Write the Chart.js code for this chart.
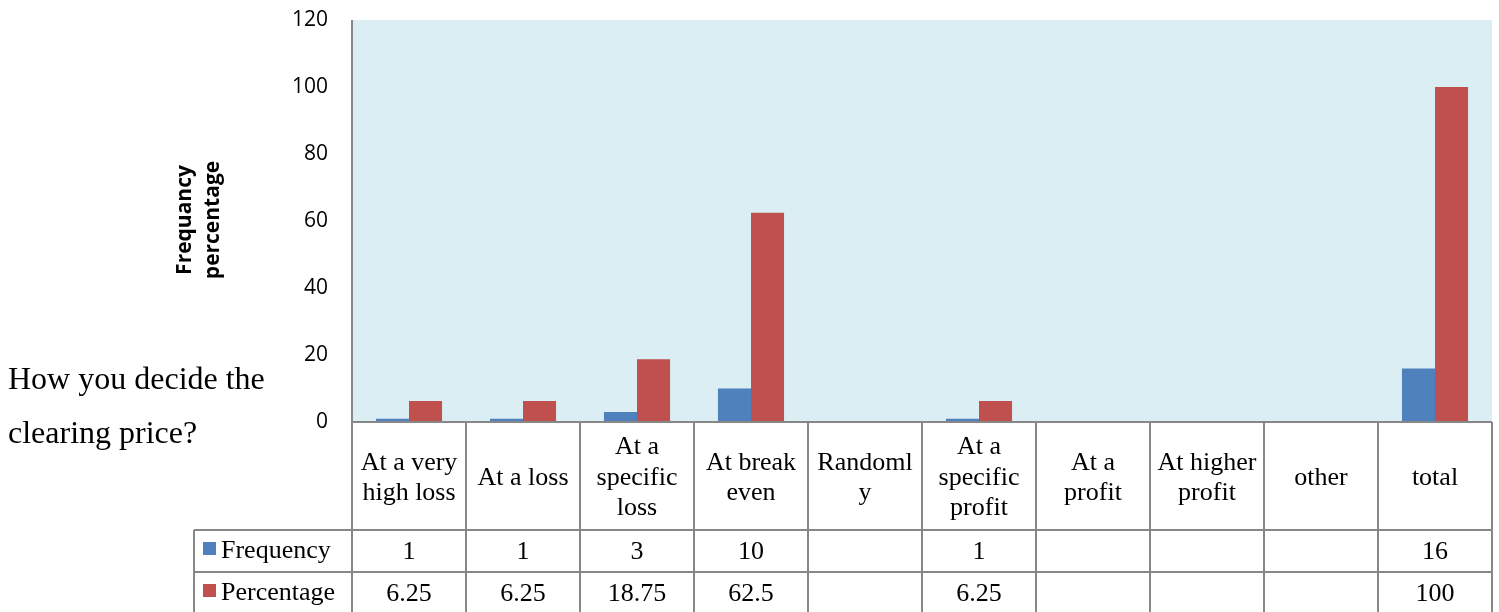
<!DOCTYPE html>
<html>
<head>
<meta charset="utf-8">
<script src="https://cdn.jsdelivr.net/npm/chart.js@4/dist/chart.umd.min.js"></script>
<style>
html,body{margin:0;padding:0;background:#fff;}
#wrap{position:relative;width:1499px;height:612px;}
#c{position:absolute;left:0;top:0;}
#q{position:absolute;left:8px;top:351px;font:32px "Liberation Serif","Times New Roman",serif;line-height:54px;color:#000;}
</style>
</head>
<body>
<div id="wrap">
<canvas id="c" width="1499" height="612"></canvas>
<div id="q">How you decide the<br>clearing price?</div>
</div>
<script>
/* Clearing price decision — bar chart with data table */
const categories=[['At a very','high loss'],['At a loss'],['At a','specific','loss'],['At break','even'],['Randoml','y'],['At a','specific','profit'],['At a','profit'],['At higher','profit'],['other'],['total']];
const frequency=[1,1,3,10,null,1,null,null,null,16];
const percentage=[6.25,6.25,18.75,62.5,null,6.25,null,null,null,100];
const yTicks=[0,20,40,60,80,100,120];
const seriesNames=['Frequency','Percentage'];
const seriesColors=['#4F81BD','#C0504D'];

const tablePlugin={
  id:'tablePlugin',
  beforeDraw(chart){
    const a=chart.chartArea,ctx=chart.ctx;
    ctx.save();ctx.fillStyle='#DBEEF3';ctx.fillRect(a.left,a.top,a.right-a.left,a.bottom-a.top);ctx.restore();
  },
  afterDraw(chart){
    const a=chart.chartArea,ctx=chart.ctx,x=chart.scales.x;
    const n=categories.length,cw=(a.right-a.left)/n;
    const hdrBot=530,row1=572,tblBot=612,legL=194;
    ctx.save();
    // axis line
    ctx.strokeStyle='#878787';ctx.lineWidth=2;
    ctx.beginPath();ctx.moveTo(a.left,a.top);ctx.lineTo(a.left,a.bottom);ctx.stroke();
    // grid of table
    ctx.beginPath();
    ctx.moveTo(a.left,a.bottom);ctx.lineTo(a.right,a.bottom);
    ctx.moveTo(legL,hdrBot);ctx.lineTo(a.right,hdrBot);
    ctx.moveTo(legL,row1);ctx.lineTo(a.right,row1);
    ctx.moveTo(legL,hdrBot);ctx.lineTo(legL,tblBot);
    for(let i=0;i<=n;i++){const px=a.left+i*cw;ctx.moveTo(px,a.bottom);ctx.lineTo(px,tblBot);}
    ctx.stroke();
    // header labels
    ctx.fillStyle='#000';ctx.textAlign='center';ctx.textBaseline='middle';
    ctx.font='26px "Liberation Serif","Times New Roman",serif';
    categories.forEach((lines,i)=>{
      const cx=x.getPixelForValue(i),lh=30.5,mid=478;
      lines.forEach((t,j)=>ctx.fillText(t,cx,mid+(j-(lines.length-1)/2)*lh));
    });
    // rows
    [frequency,percentage].forEach((vals,r)=>{
      const cy=r===0?552:594;
      vals.forEach((v,i)=>{if(v!==null)ctx.fillText(String(v),x.getPixelForValue(i),cy);});
      ctx.fillStyle=seriesColors[r];ctx.fillRect(203,cy-10,13,13);
      ctx.fillStyle='#000';ctx.textAlign='left';ctx.fillText(seriesNames[r],221,cy-1);ctx.textAlign='center';
    });
    // y axis title
    ctx.font='bold 21px "Open Sans","DejaVu Sans",sans-serif';
    ctx.translate(199,220);ctx.rotate(-Math.PI/2);
    ctx.fillText('Frequancy',0,-14);ctx.fillText('percentage',0,14);
    ctx.restore();
  }
};

new Chart(document.getElementById('c'),{
  type:'bar',
  data:{labels:categories.map(l=>l.join(' ')),datasets:[
    {label:seriesNames[0],data:frequency,backgroundColor:seriesColors[0],categoryPercentage:0.58,barPercentage:1},
    {label:seriesNames[1],data:percentage,backgroundColor:seriesColors[1],categoryPercentage:0.58,barPercentage:1}
  ]},
  options:{responsive:false,animation:false,
    layout:{padding:{left:0,top:20,right:7,bottom:190}},
    scales:{
      x:{display:false,offset:true},
      y:{min:0,max:120,afterBuildTicks:s=>{s.ticks=yTicks.map(v=>({value:v}));},
        afterFit:s=>{s.width=352;s.paddingTop=0;s.paddingBottom=0;},
        grid:{display:false,drawTicks:false},border:{display:false},
        ticks:{padding:24,color:'#000',font:{family:'"Open Sans","DejaVu Sans",sans-serif',size:21}}}
    },
    plugins:{legend:{display:false},tooltip:{enabled:false}}
  },
  plugins:[tablePlugin]
});
</script>
</body>
</html>
